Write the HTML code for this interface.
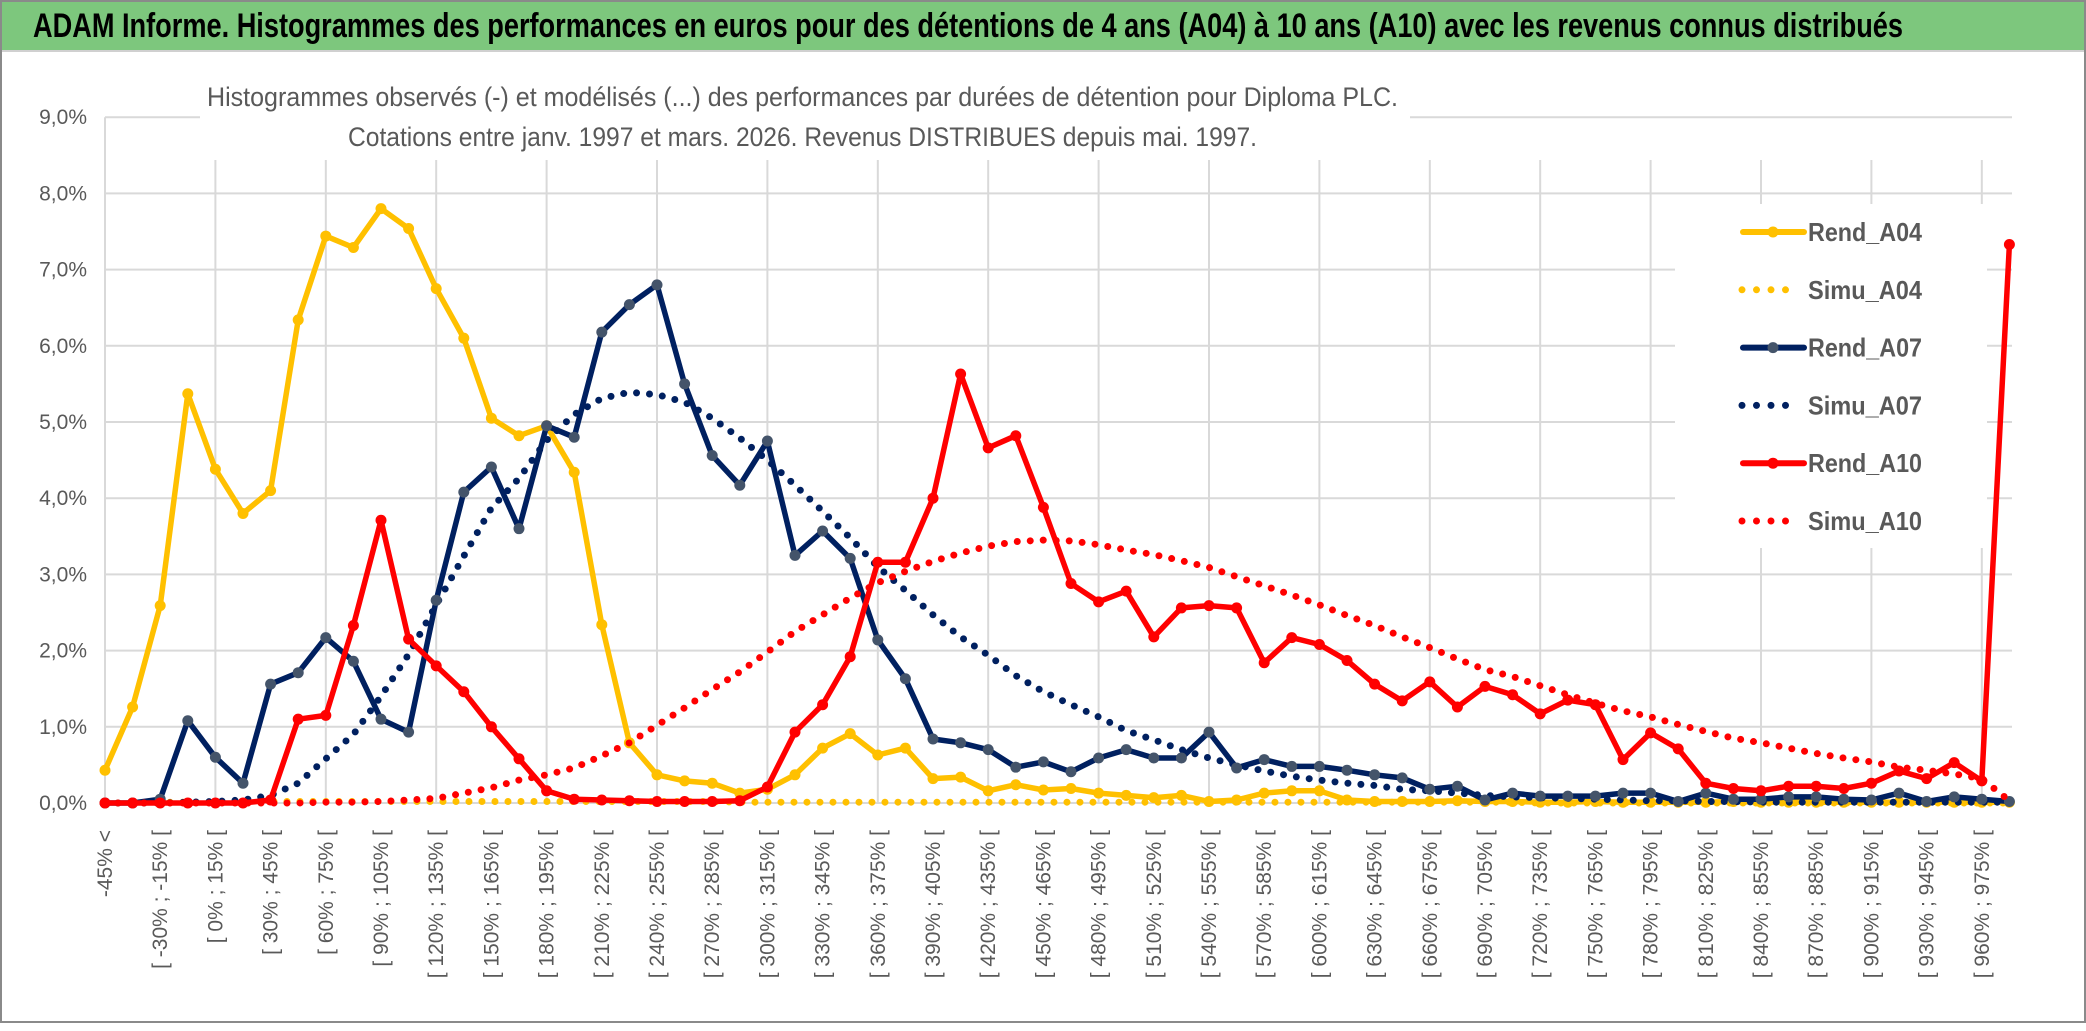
<!DOCTYPE html>
<html><head><meta charset="utf-8">
<style>
html,body{margin:0;padding:0;background:#fff;}
svg{display:block;font-family:"Liberation Sans",sans-serif;}
</style></head>
<body>
<svg id="chart" width="2086" height="1031" viewBox="0 0 2086 1031" xmlns="http://www.w3.org/2000/svg">
<rect x="0" y="0" width="2086" height="1031" fill="#fff"/>
<rect x="0" y="0" width="2086" height="50" fill="#7DC77D"/>
<line x1="0" y1="51" x2="2086" y2="51" stroke="#d0d0d0" stroke-width="2"/>
<rect x="1" y="1" width="2084" height="1021" fill="none" stroke="#8a8a8a" stroke-width="2"/>
<text x="33" y="37" font-size="34" font-weight="bold" fill="#000" textLength="1870" lengthAdjust="spacingAndGlyphs">ADAM Informe. Histogrammes des performances en euros pour des détentions de 4 ans (A04) à 10 ans (A10) avec les revenus connus distribués</text>
<g id="grid"></g>
<rect x="200" y="70" width="1210" height="88" fill="#fff"/>
<text x="207" y="106" font-size="27" fill="#595959" textLength="1191" lengthAdjust="spacingAndGlyphs">Histogrammes observés (-) et modélisés (...) des performances par durées de détention pour Diploma PLC.</text>
<text x="348" y="146" font-size="27" fill="#595959" textLength="909" lengthAdjust="spacingAndGlyphs">Cotations entre janv. 1997 et mars. 2026. Revenus DISTRIBUES depuis mai. 1997.</text>
<g id="axes"></g>
<g id="series"></g>
<g id="legend"></g>
</svg>
<script>
const yTicks = [0,1,2,3,4,5,6,7,8,9];
const seriesNames = ["Rend_A04","Simu_A04","Rend_A07","Simu_A07","Rend_A10","Simu_A10"];
const rendA04 = [0.43,1.26,2.59,5.37,4.38,3.8,4.1,6.34,7.44,7.29,7.8,7.54,6.75,6.1,5.05,4.82,4.95,4.34,2.34,0.79,0.37,0.29,0.26,0.13,0.18,0.37,0.72,0.91,0.63,0.72,0.32,0.34,0.16,0.24,0.17,0.19,0.13,0.1,0.07,0.1,0.02,0.04,0.13,0.16,0.16,0.04,0.02,0.02,0.02,0.03,0.02,0.02,0.01,0.01,0.02,0.01,0.01,0.01,0.01,0.02,0.01,0.01,0.01,0.01,0.01,0.01,0.01,0.01,0.01,0.01];
const simuA04 = [0,0,0.01,0.01,0.01,0.02,0.02,0.02,0.02,0.02,0.02,0.02,0.02,0.02,0.02,0.02,0.02,0.02,0.02,0.02,0.02,0.02,0.02,0.01,0.01,0.01,0.01,0.01,0.01,0.01,0.01,0.01,0.01,0.01,0.01,0.01,0.01,0.01,0.01,0.01,0.01,0.01,0.01,0.01,0.01,0.01,0.01,0.01,0.01,0.01,0.01,0.01,0,0,0,0,0,0,0,0,0,0,0,0,0,0,0,0,0,0];
const rendA07 = [0,0,0.05,1.08,0.6,0.26,1.56,1.71,2.17,1.86,1.1,0.93,2.66,4.08,4.41,3.6,4.95,4.8,6.18,6.54,6.8,5.5,4.56,4.17,4.75,3.25,3.57,3.21,2.14,1.63,0.84,0.79,0.7,0.47,0.54,0.41,0.59,0.7,0.59,0.59,0.93,0.46,0.57,0.48,0.48,0.43,0.37,0.33,0.18,0.22,0.04,0.13,0.09,0.09,0.09,0.13,0.13,0.02,0.13,0.05,0.05,0.08,0.08,0.05,0.04,0.13,0.02,0.08,0.05,0.02];
const simuA07 = [0,0,0,0.01,0.02,0.04,0.1,0.26,0.58,0.9,1.4,1.95,2.6,3.24,3.87,4.26,4.76,5.1,5.31,5.39,5.36,5.26,5.05,4.79,4.5,4.17,3.83,3.48,3.1,2.79,2.47,2.18,1.94,1.67,1.46,1.29,1.13,0.95,0.83,0.7,0.59,0.5,0.42,0.35,0.3,0.26,0.23,0.18,0.16,0.13,0.1,0.08,0.07,0.06,0.05,0.04,0.03,0.03,0.02,0.02,0.01,0.01,0.01,0.01,0.01,0.01,0.01,0.01,0.01,0.01];
const rendA10 = [0,0,0,0,0,0,0.04,1.1,1.15,2.33,3.71,2.15,1.8,1.46,1.0,0.58,0.16,0.05,0.04,0.03,0.02,0.02,0.02,0.03,0.21,0.93,1.29,1.92,3.16,3.16,4.0,5.63,4.66,4.82,3.88,2.88,2.64,2.78,2.18,2.56,2.59,2.56,1.84,2.17,2.08,1.87,1.56,1.34,1.59,1.26,1.53,1.42,1.17,1.35,1.29,0.57,0.92,0.71,0.26,0.19,0.16,0.22,0.22,0.19,0.26,0.42,0.32,0.53,0.29,7.33];
const simuA10 = [0,0,0,0,0,0,0,0,0.01,0.01,0.02,0.04,0.06,0.13,0.2,0.3,0.37,0.46,0.62,0.79,1.02,1.25,1.49,1.72,1.98,2.25,2.47,2.69,2.89,3.04,3.17,3.28,3.37,3.43,3.45,3.44,3.39,3.32,3.26,3.18,3.09,2.97,2.85,2.73,2.6,2.46,2.33,2.18,2.04,1.89,1.75,1.66,1.54,1.42,1.31,1.21,1.13,1.03,0.94,0.85,0.79,0.72,0.65,0.59,0.54,0.47,0.43,0.38,0.32,0.03];
const catLabels = [];
catLabels.push("-45% <");
for (let k = 1; k < 70; k++) { const a = -45 + 15*(k-1); catLabels.push("[ " + a + "% ; " + (a+15) + "% ["); }

const NS = "http://www.w3.org/2000/svg";
const X0 = 105, DX = 27.6, Y0 = 803, DY = 76.2;
const xs = i => X0 + i*DX;
const ys = v => Y0 - v*DY;
function mk(tag, attrs, parent){ const e=document.createElementNS(NS,tag); for(const k in attrs) e.setAttribute(k,attrs[k]); parent.appendChild(e); return e; }

const grid = document.getElementById('grid');
yTicks.forEach(t=>{
  const l = mk('line',{x1:X0,x2:2012,y1:ys(t),y2:ys(t),stroke:'#D9D9D9','stroke-width':2},grid);
  
  
});
for(let i=0;i<catLabels.length;i+=4){
  const l = mk('line',{x1:xs(i),x2:xs(i),y1:i===0?ys(9):160,y2:Y0,stroke:'#D9D9D9','stroke-width':2},grid);
  
  
}
const axes = document.getElementById('axes');
yTicks.forEach(t=>{
  const tx = mk('text',{x:87,y:ys(t)+7,'text-anchor':'end','font-size':21,fill:'#595959'},axes);
  tx.textContent = t.toFixed(1).replace('.',',')+'%';
  
  
});
catLabels.forEach((lab,i)=>{
  if(i%2) return;
  const x = xs(i)+7, y = 830;
  const tx = mk('text',{x:x,y:y,'text-anchor':'end','font-size':21,fill:'#595959',transform:`rotate(-90 ${x} ${y})`},axes);
  tx.textContent = lab;
  
  
});

const seriesG = document.getElementById('series');
function pts(arr){ return arr.map((v,i)=>xs(i).toFixed(1)+','+ys(v).toFixed(1)).join(' '); }
function dotted(arr,color,name){
  const p = mk('polyline',{points:pts(arr),fill:'none',stroke:color,'stroke-width':7,'stroke-linecap':'round','stroke-dasharray':'0 13'},seriesG);
  
  
}
function solid(arr,color,mcolor,name){
  const p = mk('polyline',{points:pts(arr),fill:'none',stroke:color,'stroke-width':5.5,'stroke-linejoin':'round'},seriesG);
  
  
  arr.forEach((v,i)=>{
    const c = mk('circle',{cx:xs(i),cy:ys(v),r:5.5,fill:mcolor},seriesG);
    
    
  });
}
dotted(simuA04,'#FFC000','simu-a04-line');
solid(rendA04,'#FFC000','#FFC000','rend-a04-line');
dotted(simuA07,'#002060','simu-a07-line');
solid(rendA07,'#002060','#44546A','rend-a07-line');
dotted(simuA10,'#FF0000','simu-a10-line');
solid(rendA10,'#FF0000','#FF0000','rend-a10-line');

const leg = document.getElementById('legend');
const lb = mk('rect',{x:1675,y:204,width:312,height:344,fill:'#fff'},leg);


const legStyles = [['#FFC000','#FFC000',false],['#FFC000','',true],['#002060','#44546A',false],['#002060','',true],['#FF0000','#FF0000',false],['#FF0000','',true]];
seriesNames.forEach((n,k)=>{
  const y = 232 + k*57.8;
  const [col,mc,dot] = legStyles[k];
  if(dot){
    const l = mk('line',{x1:1742,x2:1800,y1:y,y2:y,stroke:col,'stroke-width':7,'stroke-linecap':'round','stroke-dasharray':'0 14.5'},leg);
    
    
  } else {
    const l = mk('line',{x1:1743,x2:1804,y1:y,y2:y,stroke:col,'stroke-width':6,'stroke-linecap':'round'},leg);
    
    
    const c = mk('circle',{cx:1773,cy:y,r:5.5,fill:mc},leg);
    
    
  }
  const t = mk('text',{x:1808,y:y+9,'font-size':26,'font-weight':'bold',fill:'#595959',textLength:114,lengthAdjust:'spacingAndGlyphs'},leg);
  t.textContent = n;
  
  
});
</script>
</body></html>
